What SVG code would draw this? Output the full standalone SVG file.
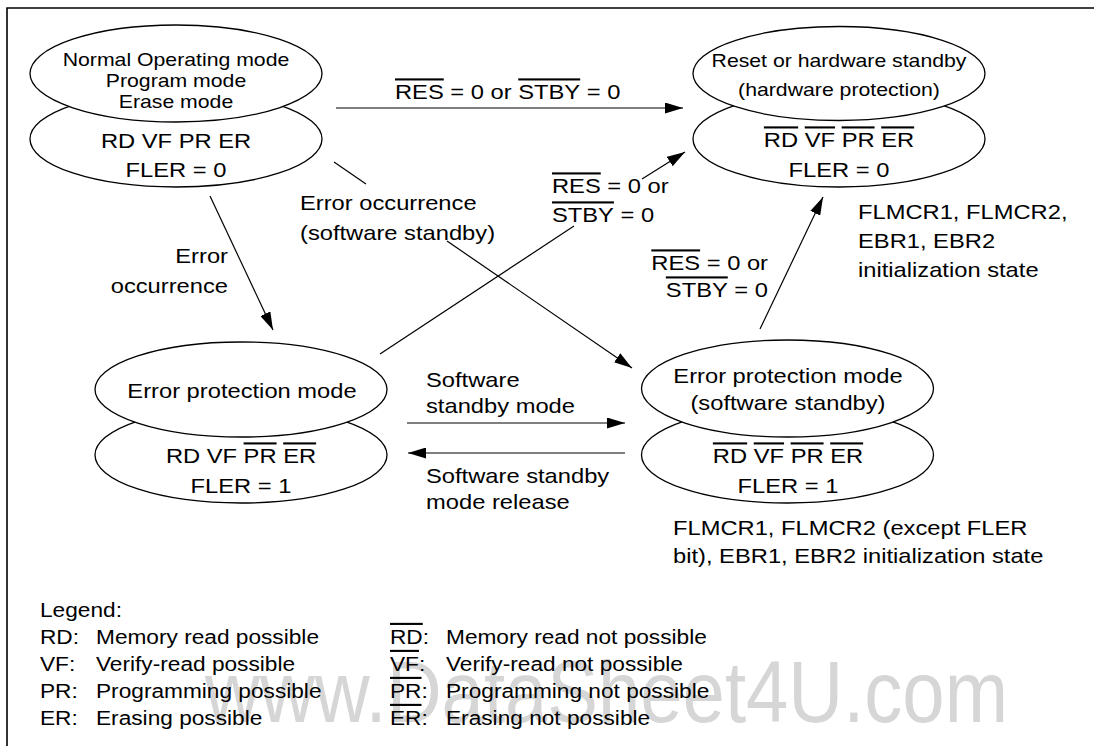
<svg xmlns="http://www.w3.org/2000/svg" width="1094" height="746" viewBox="0 0 1094 746">
<style>
text{font-family:"Liberation Sans",Arial,Helvetica,sans-serif;fill:#000}
.t21{font-size:21px}
.t19{font-size:18.8px}
.mid{text-anchor:middle}
.end{text-anchor:end}
.ov{text-decoration:overline}
.el{fill:#fff;stroke:#000;stroke-width:1.3}
.ln{stroke:#000;stroke-width:1.2;fill:none}
.wm{font-size:88px;fill:#d6d6d6}
</style>
<defs>
<marker id="ah" markerUnits="userSpaceOnUse" markerWidth="18" markerHeight="11" refX="18" refY="5.5" orient="auto">
<path d="M0,0 L18,5.5 L0,11 z" fill="#000"/>
</marker>
</defs>
<rect width="1094" height="746" fill="#fff"/>
<path d="M7,746 V8 H1094" fill="none" stroke="#000" stroke-width="1.6"/>

<text class="wm" x="205" y="722" textLength="803" lengthAdjust="spacingAndGlyphs">www.DataSheet4U.com</text>

<g id="connectors">
<line class="ln" x1="336" y1="108" x2="683" y2="108" marker-end="url(#ah)"/>
<line class="ln" x1="334" y1="162" x2="366" y2="184"/>
<line class="ln" x1="447" y1="241" x2="632" y2="368" marker-end="url(#ah)"/>
<line class="ln" x1="210" y1="196" x2="273" y2="330" marker-end="url(#ah)"/>
<line class="ln" x1="380" y1="354" x2="574" y2="226"/>
<line class="ln" x1="642" y1="179" x2="685" y2="152" marker-end="url(#ah)"/>
<line class="ln" x1="760" y1="329" x2="823" y2="197" marker-end="url(#ah)"/>
<line class="ln" x1="407" y1="423" x2="625" y2="423" marker-end="url(#ah)"/>
<line class="ln" x1="625" y1="453" x2="408" y2="453" marker-end="url(#ah)"/>
</g>

<g id="labels">
<text class="t21" transform="translate(395,0) scale(1.13,1)" y="99"><tspan class="ov">RES</tspan> = 0 or <tspan class="ov">STBY</tspan> = 0</text>
<text class="t21" transform="translate(300,0) scale(1.13,1)" y="210">Error occurrence</text>
<text class="t21" transform="translate(300,0) scale(1.13,1)" y="240">(software standby)</text>
<text class="t21 end" transform="translate(228,0) scale(1.13,1)" y="263">Error</text>
<text class="t21 end" transform="translate(228,0) scale(1.13,1)" y="293">occurrence</text>
<text class="t21" transform="translate(552,0) scale(1.13,1)" y="193"><tspan class="ov">RES</tspan> = 0 or</text>
<text class="t21" transform="translate(552,0) scale(1.13,1)" y="222"><tspan class="ov">STBY</tspan> = 0</text>
<text class="t21 end" transform="translate(768,0) scale(1.13,1)" y="270"><tspan class="ov">RES</tspan> = 0 or</text>
<text class="t21 end" transform="translate(768,0) scale(1.13,1)" y="297"><tspan class="ov">STBY</tspan> = 0</text>
<text class="t21" transform="translate(858,0) scale(1.13,1)" y="219">FLMCR1, FLMCR2,</text>
<text class="t21" transform="translate(858,0) scale(1.13,1)" y="248">EBR1, EBR2</text>
<text class="t21" transform="translate(858,0) scale(1.13,1)" y="277">initialization state</text>
<text class="t21" transform="translate(426,0) scale(1.13,1)" y="387">Software</text>
<text class="t21" transform="translate(426,0) scale(1.13,1)" y="413">standby mode</text>
<text class="t21" transform="translate(426,0) scale(1.13,1)" y="483">Software standby</text>
<text class="t21" transform="translate(426,0) scale(1.13,1)" y="509">mode release</text>
<text class="t21" transform="translate(673,0) scale(1.13,1)" y="535">FLMCR1, FLMCR2 (except FLER</text>
<text class="t21" transform="translate(673,0) scale(1.13,1)" y="563">bit), EBR1, EBR2 initialization state</text>
</g>

<g id="node-normal">
<ellipse class="el" cx="176" cy="139" rx="146" ry="48"/>
<ellipse class="el" cx="176" cy="73.5" rx="146" ry="48.5"/>
<text class="t19 mid" transform="translate(176,0) scale(1.13,1)" y="66">Normal Operating mode</text>
<text class="t19 mid" transform="translate(176,0) scale(1.13,1)" y="87">Program mode</text>
<text class="t19 mid" transform="translate(176,0) scale(1.13,1)" y="108">Erase mode</text>
<text class="t21 mid" transform="translate(176,0) scale(1.13,1)" y="148">RD VF PR ER</text>
<text class="t21 mid" transform="translate(176,0) scale(1.13,1)" y="177">FLER = 0</text>
</g>

<g id="node-reset">
<ellipse class="el" cx="839" cy="139" rx="146" ry="48"/>
<ellipse class="el" cx="839" cy="73.5" rx="146" ry="47"/>
<text class="t19 mid" transform="translate(839,0) scale(1.13,1)" y="67">Reset or hardware standby</text>
<text class="t19 mid" transform="translate(839,0) scale(1.13,1)" y="96">(hardware protection)</text>
<text class="t21 mid" transform="translate(839,0) scale(1.13,1)" y="147"><tspan class="ov">RD</tspan> <tspan class="ov">VF</tspan> <tspan class="ov">PR</tspan> <tspan class="ov">ER</tspan></text>
<text class="t21 mid" transform="translate(839,0) scale(1.13,1)" y="177">FLER = 0</text>
</g>

<g id="node-error">
<ellipse class="el" cx="241" cy="455" rx="146" ry="48"/>
<ellipse class="el" cx="241" cy="389.5" rx="146" ry="47.5"/>
<text class="t21 mid" transform="translate(242,0) scale(1.13,1)" y="398">Error protection mode</text>
<text class="t21 mid" transform="translate(241,0) scale(1.13,1)" y="463">RD VF <tspan class="ov">PR</tspan> <tspan class="ov">ER</tspan></text>
<text class="t21 mid" transform="translate(241,0) scale(1.13,1)" y="493">FLER = 1</text>
</g>

<g id="node-error-sw">
<ellipse class="el" cx="787.5" cy="455" rx="146" ry="48"/>
<ellipse class="el" cx="787.5" cy="388.5" rx="146" ry="48.5"/>
<text class="t21 mid" transform="translate(788,0) scale(1.13,1)" y="383">Error protection mode</text>
<text class="t21 mid" transform="translate(788,0) scale(1.13,1)" y="410">(software standby)</text>
<text class="t21 mid" transform="translate(788,0) scale(1.13,1)" y="463"><tspan class="ov">RD</tspan> <tspan class="ov">VF</tspan> <tspan class="ov">PR</tspan> <tspan class="ov">ER</tspan></text>
<text class="t21 mid" transform="translate(788,0) scale(1.13,1)" y="493">FLER = 1</text>
</g>

<g id="legend">
<text class="t21" transform="translate(40,0) scale(1.08,1)" y="617">Legend:</text>
<text class="t21" transform="translate(40,0) scale(1.08,1)" y="644">RD:</text>
<text class="t21" transform="translate(96,0) scale(1.08,1)" y="644">Memory read possible</text>
<text class="t21" transform="translate(40,0) scale(1.08,1)" y="671">VF:</text>
<text class="t21" transform="translate(96,0) scale(1.08,1)" y="671">Verify-read possible</text>
<text class="t21" transform="translate(40,0) scale(1.08,1)" y="698">PR:</text>
<text class="t21" transform="translate(96,0) scale(1.08,1)" y="698">Programming possible</text>
<text class="t21" transform="translate(40,0) scale(1.08,1)" y="725">ER:</text>
<text class="t21" transform="translate(96,0) scale(1.08,1)" y="725">Erasing possible</text>
<text class="t21" transform="translate(390,0) scale(1.08,1)" y="644"><tspan class="ov">RD</tspan>:</text>
<text class="t21" transform="translate(446,0) scale(1.08,1)" y="644">Memory read not possible</text>
<text class="t21" transform="translate(390,0) scale(1.08,1)" y="671"><tspan class="ov">VF</tspan>:</text>
<text class="t21" transform="translate(446,0) scale(1.08,1)" y="671">Verify-read not possible</text>
<text class="t21" transform="translate(390,0) scale(1.08,1)" y="698"><tspan class="ov">PR</tspan>:</text>
<text class="t21" transform="translate(446,0) scale(1.08,1)" y="698">Programming not possible</text>
<text class="t21" transform="translate(390,0) scale(1.08,1)" y="725"><tspan class="ov">ER</tspan>:</text>
<text class="t21" transform="translate(446,0) scale(1.08,1)" y="725">Erasing not possible</text>
</g>
</svg>
